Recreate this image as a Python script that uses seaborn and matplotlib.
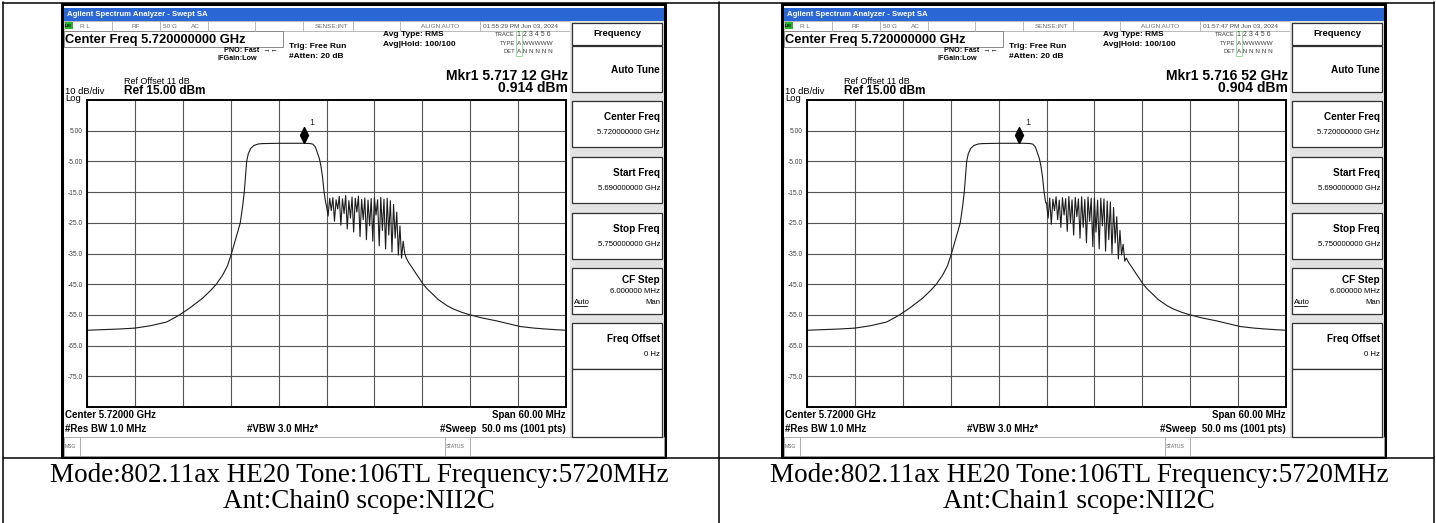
import matplotlib
matplotlib.use("Agg")
import numpy as np
import pandas as pd
import matplotlib.pyplot as plt
import seaborn as sns
from matplotlib.patches import Rectangle
from matplotlib.lines import Line2D
from matplotlib.path import Path

# ==================== DATA ====================
# trace levels; frequency in MHz above 5.690 GHz
SKIRT_LO_MHZ = [0, 2, 4, 6, 8, 10, 11.6, 13, 14.5, 15.5, 16.2, 17, 17.6, 18.1,
                18.6, 19.2, 19.5, 19.7, 20.0, 20.2, 20.5, 20.9, 21.5, 22, 24,
                26, 27.12, 28, 28.3, 28.6, 28.9, 29.1, 29.3, 29.5, 29.7, 29.9]
SKIRT_LO_DBM = [-60.0, -59.8, -59.6, -59.3, -58.5, -57.3, -55.0, -52.5, -49.5,
                -47.0, -45.0, -42.0, -39.0, -35.0, -30.5, -25.0, -19.5, -15.0,
                -5.0, -2.5, -0.8, 0.2, 0.7, 0.8, 0.9, 0.9, 0.91, 0.8, 0.6, -0.3,
                -2.5, -4.0, -6.5, -10.0, -15.0, -18.5]

BURST_MHZ = [30.0, 30.2, 30.4, 30.6, 30.8, 31.0, 31.2, 31.4, 31.6, 31.8,
             32.0, 32.2, 32.4, 32.6, 32.8, 33.0, 33.2, 33.4, 33.6, 33.8,
             34.0, 34.2, 34.4, 34.6, 34.8, 35.0, 35.2, 35.4, 35.6, 35.8,
             36.0, 36.2, 36.4, 36.6, 36.8, 37.0, 37.2, 37.4, 37.6, 37.8,
             38.0, 38.2, 38.4, 38.6, 38.8, 39.0, 39.2, 39.4, 39.6, 39.8]
BURST_CH0_DBM = [-19.5, -22.8, -17.0, -21.0, -16.8, -24.5, -17.5, -20.5, -16.4, -25.8,
                 -17.2, -22.0, -16.1, -27.0, -17.8, -23.5, -16.6, -28.0, -17.0, -21.5,
                 -16.3, -29.5, -17.4, -24.0, -16.9, -30.5, -17.6, -26.0, -17.1, -31.0,
                 -16.8, -22.5, -17.5, -32.5, -16.7, -27.5, -17.3, -33.5, -17.0, -29.0,
                 -17.8, -34.5, -19.0, -30.0, -21.5, -35.5, -26.0, -36.5, -31.0, -35.0]
BURST_CH1_DBM = [-18.5, -23.5, -16.9, -25.5, -17.3, -21.0, -16.5, -24.0, -17.6, -26.5,
                 -16.8, -22.5, -17.1, -27.8, -16.4, -25.0, -17.5, -29.0, -16.7, -23.0,
                 -17.2, -30.0, -16.5, -26.5, -17.4, -31.5, -16.6, -24.5, -17.0, -32.8,
                 -16.9, -28.0, -17.6, -33.5, -17.0, -26.0, -17.2, -34.2, -17.9, -30.5,
                 -18.2, -35.0, -20.0, -31.5, -23.0, -36.8, -27.5, -35.5, -32.0, -37.5]

SKIRT_HI_MHZ = [40.0, 40.3, 40.7, 41.2, 41.6, 42.1, 42.6, 43.2, 44.0, 45.1,
                46.0, 47.0, 48.0, 49.5, 51.4, 53.0, 54.3, 56.0, 58.0, 60.0]
SKIRT_HI_DBM = [-36.5, -38.0, -39.5, -41.5, -43.0, -45.0, -46.5, -48.0, -50.0,
                -52.0, -53.2, -54.2, -55.0, -56.0, -57.0, -58.0, -58.8, -59.3,
                -59.7, -60.0]

Y_TICKS = [5, -5, -15, -25, -35, -45, -55, -65, -75]
Y_TICK_LABELS = ["5.00", "-5.00", "-15.0", "-25.0", "-35.0", "-45.0", "-55.0",
                 "-65.0", "-75.0"]

CHAINS = ["Chain0", "Chain1"]
BURSTS = [BURST_CH0_DBM, BURST_CH1_DBM]
TIMESTAMPS = ["01:55:29 PM Jun 03, 2024", "01:57:47 PM Jun 03, 2024"]
MKR_GHZ = [5.71712, 5.71652]
MKR_DBM = [0.914, 0.904]

START_GHZ = 5.690
SPAN_MHZ = 60
REF_DBM = 15

SOFTKEYS = [("Center Freq", "5.720000000 GHz"), ("Start Freq", "5.690000000 GHz"),
            ("Stop Freq", "5.750000000 GHz"), ("CF Step", "6.000000 MHz"),
            ("Freq Offset", "0 Hz")]

# ==================== SETUP ====================
sns.set_style("white")
SANS = ["Liberation Sans", "DejaVu Sans"]
SERIF = ["Liberation Serif", "DejaVu Serif"]
plt.rcParams["font.family"] = SANS

W, H = 1436, 523
fig = plt.figure(figsize=(W / 100, H / 100), dpi=100)
fig.patch.set_facecolor("white")


def fx(x):
    return x / W


def fy(y):
    return 1 - y / H


def box(x0, y0, x1, y1, fc="none", ec="black", lw=1.0, z=1):
    fig.add_artist(Rectangle((fx(x0), fy(y1)), (x1 - x0) / W, (y1 - y0) / H,
                             transform=fig.transFigure, facecolor=fc,
                             edgecolor=ec, linewidth=lw, zorder=z))


def line(x0, y0, x1, y1, color="black", lw=1.0, z=2):
    fig.add_artist(Line2D([fx(x0), fx(x1)], [fy(y0), fy(y1)],
                          transform=fig.transFigure, color=color,
                          linewidth=lw, zorder=z))


def label(x, y, s, size=6, bold=False, ha="left", color="black", family=None, z=5, **kw):
    fig.text(fx(x), fy(y), s, fontsize=size, fontweight="bold" if bold else "normal",
             ha=ha, va="center", color=color, family=family or SANS, zorder=z, **kw)


DIAMOND = Path([(0, 0), (0.5, 1), (0, 2), (-0.5, 1), (0, 0)])


def draw_screen(ox, i):
    # frame + title bar
    box(ox + 62, 4, ox + 665, 457, fc="white", ec="black", lw=2.2, z=1)
    box(ox + 63.5, 7.5, ox + 663.5, 21, fc="#2a66d4", ec="none", z=2)
    label(ox + 67, 14.5, "Agilent Spectrum Analyzer - Swept SA", 5.6, True, color="white")

    # status row
    box(ox + 63.5, 21, ox + 570, 31, fc="white", ec="#b0b0b0", lw=0.6, z=2)
    for xd in [112, 160, 208, 255, 303, 353, 400, 480]:
        line(ox + xd, 21, ox + xd, 31, color="#b0b0b0", lw=0.6, z=3)
    box(ox + 64.5, 22.5, ox + 72.5, 29.5, fc="#30b030", ec="none", z=3)
    label(ox + 65, 26, "LXI", 3.2, True)
    st = dict(size=4.6, color="#707070")
    label(ox + 80, 26, "R L", **st)
    label(ox + 131, 26, "RF", **st)
    label(ox + 163, 26, "50 \u03a9", **st)
    label(ox + 191, 26, "AC", **st)
    label(ox + 348, 26, "SENSE:INT", ha="right", **st)
    label(ox + 421, 26, "ALIGN AUTO", **st)
    label(ox + 483, 26, TIMESTAMPS[i], size=4.6, color="#505050")

    # header block
    box(ox + 63.5, 31, ox + 283, 47, fc="white", ec="#888888", lw=0.7, z=2)
    label(ox + 65, 39.5, "Center Freq 5.720000000 GHz", 9.3, True)
    label(ox + 224, 50, "PNO: Fast  \u2192\u2190", 5.2, True)
    label(ox + 217, 58.5, "IFGain:Low", 5.2, True)
    label(ox + 289, 47, "Trig: Free Run", 6.0, True)
    label(ox + 289, 56.5, "#Atten: 20 dB", 6.0, True)
    label(ox + 383, 35, "Avg Type: RMS", 6.0, True)
    label(ox + 383, 45, "Avg|Hold: 100/100", 6.0, True)
    box(ox + 516, 31.5, ox + 522, 55.5, fc="none", ec="#8fd08f", lw=0.6, z=3)
    tr = dict(size=4.2, color="#404040")
    label(ox + 515, 35, "TRACE", ha="right", **tr)
    label(ox + 515, 43.5, "TYPE", ha="right", **tr)
    label(ox + 515, 51.8, "DET", ha="right", **tr)
    label(ox + 517, 35, "1 2 3 4 5 6", size=5.0, color="#404040")
    label(ox + 517, 43.5, "A WWWWW", size=4.6, color="#404040")
    label(ox + 517, 51.8, "A N N N N N", size=4.6, color="#404040")

    mk = f"{MKR_GHZ[i]:.5f}"
    label(ox + 568, 76, f"Mkr1 {mk[:5]} {mk[5:]} GHz", 10, True, ha="right")
    label(ox + 568, 88.5, f"{MKR_DBM[i]:.3f} dBm", 10, True, ha="right")
    label(ox + 124, 81, "Ref Offset 11 dB", 6.5)
    label(ox + 124, 90.5, f"Ref {REF_DBM:.2f} dBm", 8.5, True)
    label(ox + 65, 91.5, "10 dB/div", 6.8)
    label(ox + 65, 98.5, "Log", 6.8)

    # softkeys
    box(ox + 570, 21, ox + 663.5, 437, fc="#e2e2e2", ec="none", z=2)
    box(ox + 572, 23, ox + 662, 45, fc="white", ec="#303030", lw=0.9, z=3)
    label(ox + 617, 34, "Frequency", 6.8, True, ha="center")
    box(ox + 572, 46, ox + 662, 92, fc="white", ec="#303030", lw=0.9, z=3)
    label(ox + 660, 70, "Auto Tune", 7.2, True, ha="right")
    tops = [101, 157, 213, 268, 323]
    for (title, val), top in zip(SOFTKEYS, tops):
        box(ox + 572, top, ox + 662, top + 46, fc="white", ec="#303030", lw=0.9, z=3)
        if title == "CF Step":
            label(ox + 660, top + 12, title, 7.2, True, ha="right")
            label(ox + 660, top + 23.5, val, 5.6, ha="right")
        else:
            label(ox + 660, top + 15.5, title, 7.2, True, ha="right")
            label(ox + 660, top + 31, val, 5.6, ha="right")
    label(ox + 574, 302, "Auto", 5.6)
    line(ox + 574, 306, ox + 587, 306, lw=0.6, z=6)
    label(ox + 660, 302, "Man", 5.6, ha="right")
    box(ox + 572, 369, ox + 662, 437, fc="white", ec="#303030", lw=0.9, z=3)

    # bottom annotations
    label(ox + 65, 415.5, "Center 5.72000 GHz", 7.0, True)
    label(ox + 65, 428.5, "#Res BW 1.0 MHz", 7.0, True)
    label(ox + 247, 428.5, "#VBW 3.0 MHz*", 7.0, True)
    label(ox + 566, 415.5, f"Span {SPAN_MHZ:.2f} MHz", 7.0, True, ha="right")
    label(ox + 566, 428.5, "#Sweep  50.0 ms (1001 pts)", 7.0, True, ha="right")
    box(ox + 63.5, 437, ox + 663.5, 455.5, fc="white", ec="#a0a0a0", lw=0.6, z=2)
    line(ox + 80, 437, ox + 80, 455.5, color="#a0a0a0", lw=0.6, z=3)
    line(ox + 445, 437, ox + 445, 455.5, color="#a0a0a0", lw=0.6, z=3)
    line(ox + 470, 437, ox + 470, 455.5, color="#a0a0a0", lw=0.6, z=3)
    label(ox + 65, 446, "MSG", 3.6, color="#606060")
    label(ox + 446, 446, "STATUS", 3.6, color="#606060")

    # graticule with the trace
    ax = fig.add_axes([fx(ox + 87), fy(407), 479 / W, 307 / H])
    ax.set_zorder(4)
    df = pd.DataFrame({"mhz": SKIRT_LO_MHZ + BURST_MHZ + SKIRT_HI_MHZ,
                       "dbm": SKIRT_LO_DBM + BURSTS[i] + SKIRT_HI_DBM})
    sns.lineplot(data=df, x="mhz", y="dbm", ax=ax, color="#1c1c1c", lw=0.8,
                 estimator=None, sort=False)
    mkr_mhz = (MKR_GHZ[i] - START_GHZ) * 1000
    ax.plot([mkr_mhz], [MKR_DBM[i]], marker=DIAMOND, ms=23, color="black", ls="none")
    ax.annotate("1", (mkr_mhz, MKR_DBM[i]), xytext=(4.5, 12), textcoords="offset points",
                fontsize=6.5, va="bottom")
    ax.set_xlim(0, SPAN_MHZ)
    ax.set_ylim(REF_DBM - 100, REF_DBM)
    ax.set_xticks(np.linspace(0, SPAN_MHZ, 11))
    ax.set_xticklabels([])
    ax.set_yticks(Y_TICKS)
    ax.set_yticklabels(Y_TICK_LABELS, fontsize=4.8, color="#404040")
    ax.tick_params(length=0, pad=3)
    ax.grid(True, color="#555555", lw=0.8)
    ax.set_xlabel("")
    ax.set_ylabel("")
    for s in ax.spines.values():
        s.set_color("black")
        s.set_linewidth(1.4)


for i, ox in enumerate([0, 720]):
    draw_screen(ox, i)
    cx = ox + 359
    label(cx, 476, "Mode:802.11ax HE20 Tone:106TL Frequency:5720MHz", 19.5,
          ha="center", family=SERIF)
    label(cx, 501.5, f"Ant:{CHAINS[i]} scope:NII2C", 19.5, ha="center", family=SERIF)

# table rules
for xv in [3, 719, 1434]:
    line(xv, 2, xv, 523, lw=1.1, z=6)
for yv in [2.5, 458]:
    line(3, yv, 1434, yv, lw=1.1, z=6)

fig.savefig("out.png", dpi=100)
